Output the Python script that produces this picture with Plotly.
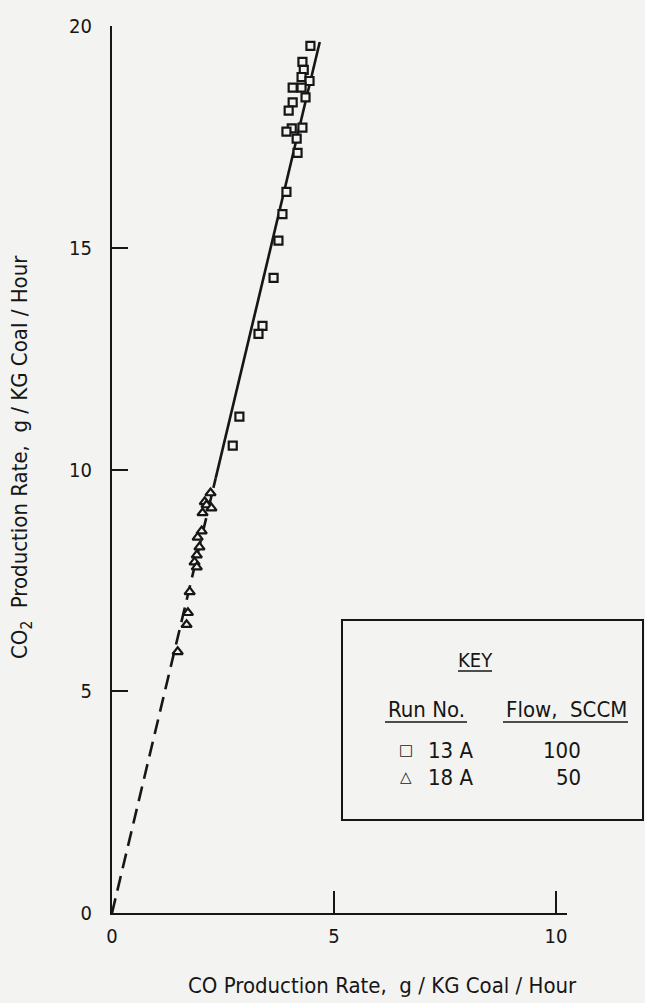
import plotly.graph_objects as go

# ---- data ----
run13_x = [4.47, 4.29, 4.32, 4.27, 4.45, 4.07, 4.27, 4.36, 4.07, 3.98, 4.29, 4.05,
           3.93, 4.16, 4.18, 3.93, 3.84, 3.75, 3.64, 3.39, 3.30, 2.87, 2.72]
run13_y = [19.55, 19.19, 19.01, 18.85, 18.76, 18.61, 18.61, 18.39, 18.28, 18.09, 17.71, 17.69,
           17.62, 17.46, 17.14, 16.26, 15.76, 15.16, 14.32, 13.24, 13.06, 11.19, 10.54]
run18_x = [2.22, 2.09, 2.13, 2.24, 2.04, 2.02, 1.93, 1.97, 1.91, 1.86, 1.91, 1.75, 1.71, 1.68, 1.48]
run18_y = [9.47, 9.27, 9.20, 9.13, 9.02, 8.61, 8.47, 8.25, 8.07, 7.91, 7.80, 7.24, 6.77, 6.50, 5.89]

fit_dash_x = [0.0, 2.335]
fit_dash_y = [0.0, 9.8]
fit_solid_x = [2.335, 4.68]
fit_solid_y = [9.8, 19.64]

x_ticks = [0, 5, 10]
y_ticks = [0, 5, 10, 15, 20]

key_runs = ["13 A", "18 A"]
key_flows = ["100", "50"]
key_symbols = ["□", "△"]

# ---- layout geometry (pixels) ----
W, H = 645, 1003
L, R, T, B = 112, 78, 26, 90
PW, PH = W - L - R, H - T - B


def fx(px):
    return (px - L) / PW


def fy(py):
    return (H - B - py) / PH


FONT = "DejaVu Sans Condensed, Liberation Sans Narrow, Liberation Sans, sans-serif"
INK = "#161616"
BG = "#f3f3f1"

fig = go.Figure()

fig.add_trace(go.Scatter(x=fit_dash_x, y=fit_dash_y, mode="lines",
                         line=dict(color=INK, width=2.6, dash="15px,8px"),
                         showlegend=False, hoverinfo="skip"))
fig.add_trace(go.Scatter(x=fit_solid_x, y=fit_solid_y, mode="lines",
                         line=dict(color=INK, width=2.6),
                         showlegend=False, hoverinfo="skip"))
fig.add_trace(go.Scatter(x=run13_x, y=run13_y, mode="markers", name="13 A",
                         marker=dict(symbol="square", size=8, color=BG,
                                     line=dict(color=INK, width=2.2)),
                         showlegend=False))
fig.add_trace(go.Scatter(x=run18_x, y=run18_y, mode="markers", name="18 A",
                         marker=dict(symbol="triangle-up", size=9, color=BG,
                                     line=dict(color=INK, width=2.2)),
                         showlegend=False))

axis_common = dict(showgrid=False, zeroline=False, showline=True, linecolor=INK,
                   linewidth=2, ticks="inside", tickcolor=INK, tickwidth=2,
                   tickfont=dict(family=FONT, size=20, color=INK), tickmode="array")

fig.update_xaxes(range=[0, 10.25], tickvals=x_ticks, ticktext=[str(v) for v in x_ticks],
                 ticklen=22, ticklabelstandoff=4, **axis_common)
fig.update_yaxes(range=[0, 20], tickvals=y_ticks, ticktext=[str(v) for v in y_ticks],
                 ticklen=16, ticklabelstandoff=14, **axis_common)

TXT = dict(family=FONT, size=22, color=INK)

ann = []
ann.append(dict(text="CO Production Rate,  g / KG Coal / Hour", x=fx(382), y=fy(985),
                xref="paper", yref="paper", showarrow=False,
                font=TXT, xanchor="center", yanchor="middle"))
ann.append(dict(text="CO<sub>2</sub>  Production Rate,  g / KG Coal / Hour", x=fx(21), y=fy(457),
                xref="paper", yref="paper", showarrow=False, textangle=-90,
                font=TXT, xanchor="center", yanchor="middle"))

# key box
ann.append(dict(text="KEY", x=fx(475), y=fy(660), xref="paper", yref="paper", showarrow=False,
                font=dict(family=FONT, size=20, color=INK), xanchor="center", yanchor="middle"))
ann.append(dict(text="Run No.", x=fx(426), y=fy(709), xref="paper", yref="paper", showarrow=False,
                font=TXT, xanchor="center", yanchor="middle"))
ann.append(dict(text="Flow,  SCCM", x=fx(566), y=fy(709), xref="paper", yref="paper", showarrow=False,
                font=TXT, xanchor="center", yanchor="middle"))
row_y = [750, 777]
for i in range(len(key_runs)):
    ann.append(dict(text=key_symbols[i], x=fx(406), y=fy(row_y[i]), xref="paper", yref="paper",
                    showarrow=False, font=dict(family="DejaVu Sans", size=15, color=INK),
                    xanchor="center", yanchor="middle"))
    ann.append(dict(text=key_runs[i], x=fx(426), y=fy(row_y[i]), xref="paper", yref="paper",
                    showarrow=False, font=TXT, xanchor="left", yanchor="middle"))
    ann.append(dict(text=key_flows[i], x=fx(583), y=fy(row_y[i]), xref="paper", yref="paper",
                    showarrow=False, font=TXT, xanchor="right", yanchor="middle"))

shapes = [
    dict(type="rect", xref="paper", yref="paper", x0=fx(342), x1=fx(643), y0=fy(820), y1=fy(620),
         line=dict(color=INK, width=2), fillcolor="rgba(0,0,0,0)"),
    dict(type="line", xref="paper", yref="paper", x0=fx(458), x1=fx(492), y0=fy(671), y1=fy(671),
         line=dict(color=INK, width=1.5)),
    dict(type="line", xref="paper", yref="paper", x0=fx(385), x1=fx(467), y0=fy(722), y1=fy(722),
         line=dict(color=INK, width=1.5)),
    dict(type="line", xref="paper", yref="paper", x0=fx(503), x1=fx(628), y0=fy(722), y1=fy(722),
         line=dict(color=INK, width=1.5)),
]

fig.update_layout(width=W, height=H, margin=dict(l=L, r=R, t=T, b=B),
                  paper_bgcolor=BG, plot_bgcolor=BG, showlegend=False,
                  annotations=ann, shapes=shapes)

fig.write_html("out.html", config={"displayModeBar": False},
               post_script="document.body.style.margin='0';"
                           "document.body.style.background='%s';" % BG)
